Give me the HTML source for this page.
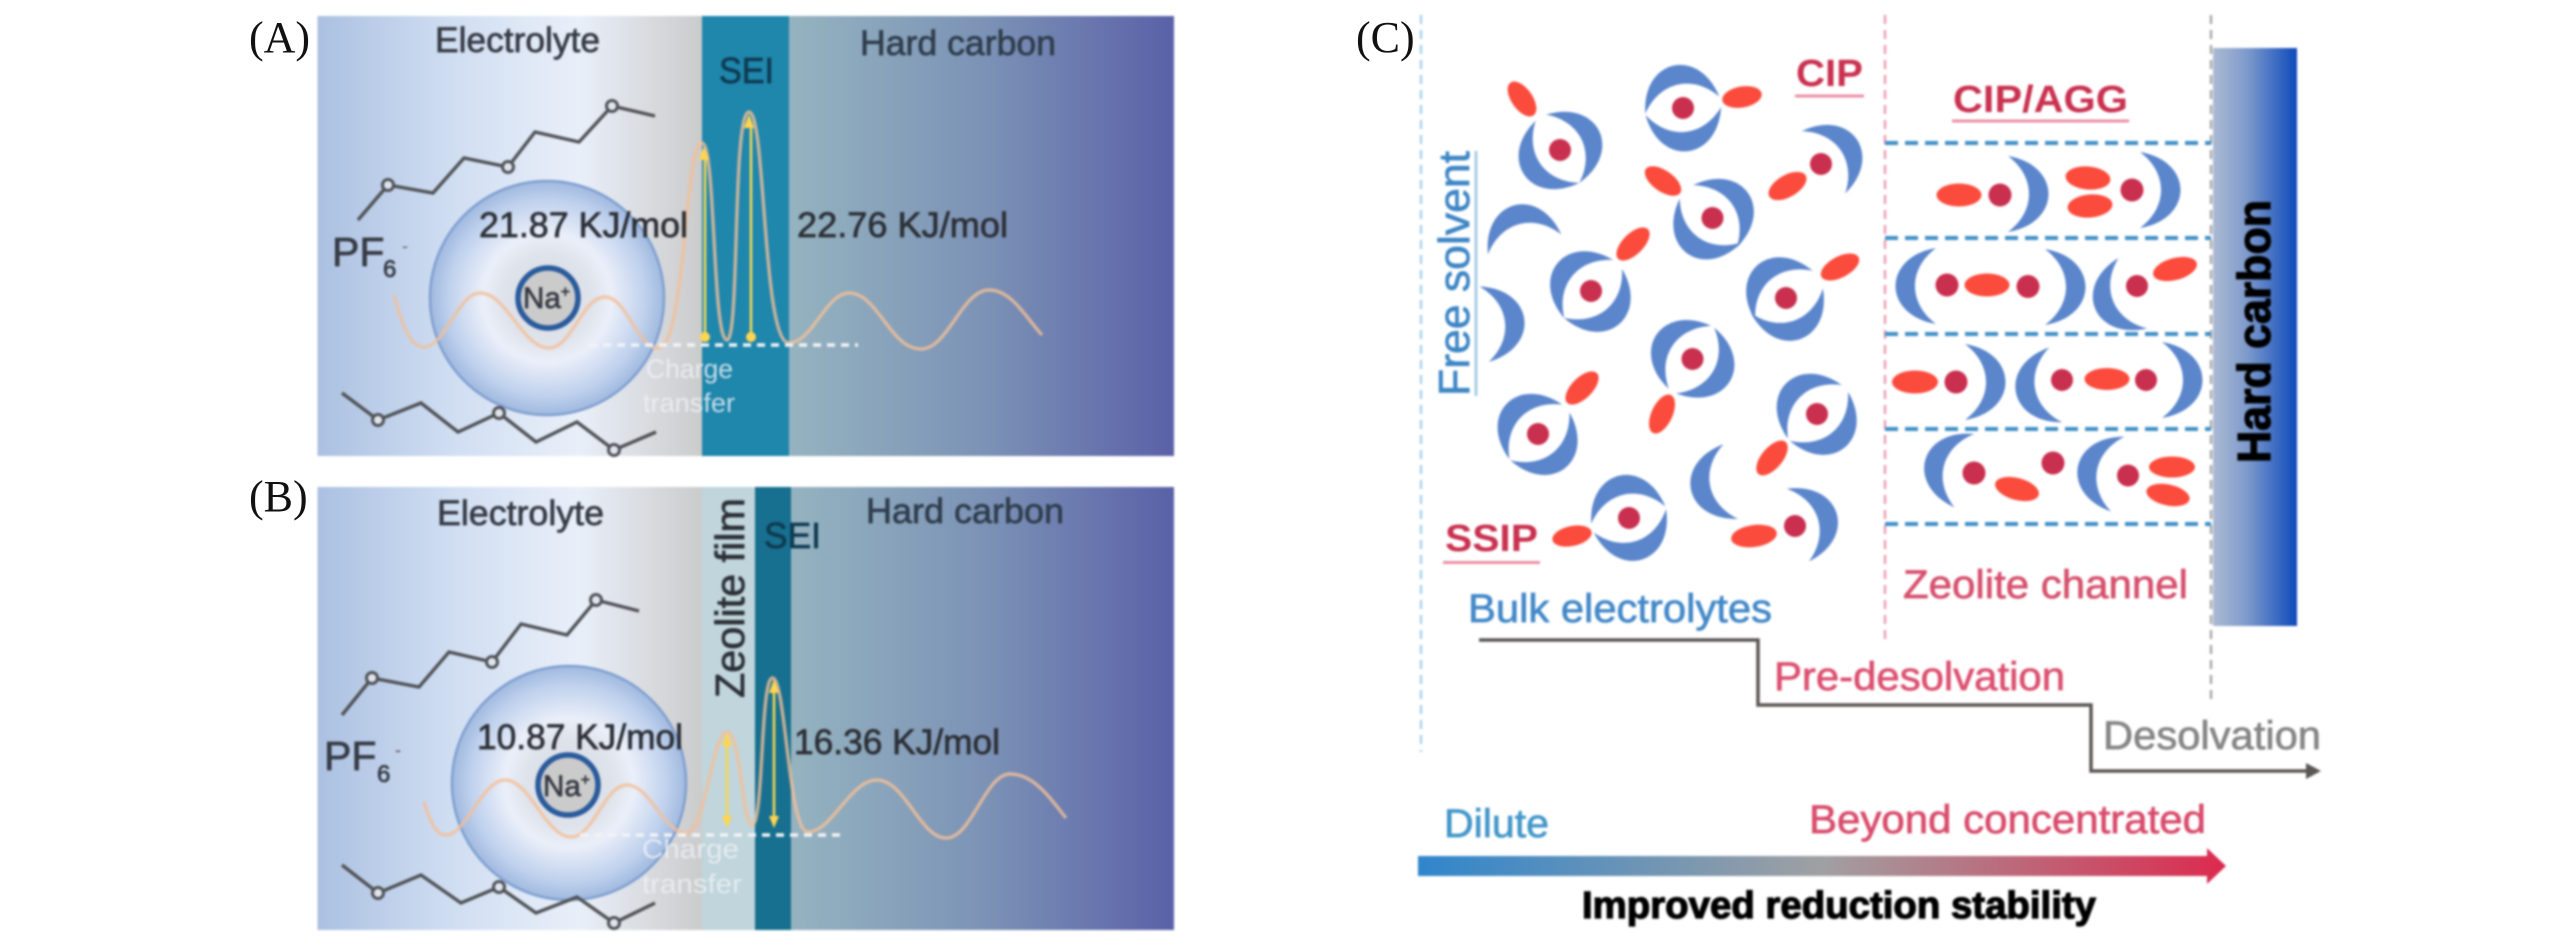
<!DOCTYPE html>
<html><head><meta charset="utf-8">
<style>
html,body{margin:0;padding:0;background:#fff;width:2567px;height:945px;overflow:hidden}
svg{display:block;position:absolute;left:0;top:0}
text{font-family:"Liberation Sans",sans-serif}
.s{font-family:"Liberation Serif",serif;font-size:44px;fill:#111}
.t{fill:currentColor;stroke:currentColor;stroke-width:.7}
.d{color:#363a44}
.m{fill:none;stroke:#505256;stroke-width:3.4}
.o{fill:#dfe5ef;stroke:#505256;stroke-width:3}
.cv{fill:none;stroke:#f2bf98;stroke-width:3.4;opacity:.8}
.y{stroke:#f0d858;stroke-width:2.6;fill:none}
.yh{fill:#ffd550}
.dash{stroke:#f1f3f5;stroke-width:3.5;stroke-dasharray:8 6;fill:none}
.wt{fill:#eef2f6;opacity:.8;font-size:27px}
.b{fill:#5b86cc}.r{fill:#c92f4e}.e{fill:#fb4b3c}
.hd{stroke:#3f8fc8;stroke-width:4;stroke-dasharray:13 7;fill:none}
</style></head>
<body>
<svg width="2567" height="945" viewBox="0 0 2567 945" style="filter:blur(1.1px)">
<defs>
<linearGradient id="el"><stop offset="0" stop-color="#abc0e1"/><stop offset=".35" stop-color="#d0def2"/><stop offset=".68" stop-color="#e9eff9"/><stop offset="1" stop-color="#cbcbcb"/></linearGradient>
<linearGradient id="hc"><stop offset="0" stop-color="#95b3c0"/><stop offset=".5" stop-color="#7c93b6"/><stop offset="1" stop-color="#5a61a8"/></linearGradient>
<radialGradient id="ion"><stop offset="0" stop-color="#d8dae0"/><stop offset=".38" stop-color="#dfe3ec"/><stop offset=".55" stop-color="#ebeff9"/><stop offset=".84" stop-color="#bfd1ed"/><stop offset="1" stop-color="#a0b9df"/></radialGradient>
<linearGradient id="hb"><stop offset="0" stop-color="#abbad2"/><stop offset=".4" stop-color="#7f9bcc"/><stop offset="1" stop-color="#0e4abb"/></linearGradient>
<linearGradient id="ar" gradientUnits="userSpaceOnUse" x1="1418" y1="0" x2="2226" y2="0"><stop offset="0" stop-color="#2f86cc"/><stop offset=".5" stop-color="#a0a0a2"/><stop offset="1" stop-color="#dc2a4e"/></linearGradient>
<path id="c" d="M-18,-38 C36,-29 36,29 -18,38 C10,17 10,-17 -18,-38Z" fill="#5b86cc"/>
</defs>

<!-- Panel A -->
<rect x="317.5" y="16" width="385" height="440" fill="url(#el)"/>
<rect x="702" y="16" width="87" height="440" fill="#1f86ac"/>
<rect x="789" y="16" width="385" height="440" fill="url(#hc)"/>
<polyline class="m" points="358,220 388,185 433,193 464,158 508,167 535,132 579,142 612,106 655,116"/>
<circle class="o" cx="388" cy="185" r="5.5"/><circle class="o" cx="508" cy="167" r="5.5"/><circle class="o" cx="612" cy="106" r="5.5"/>
<circle cx="547" cy="298" r="117" fill="url(#ion)" stroke="#7f9fd0" stroke-width="2.5"/>
<polyline class="m" points="342,393 378,420 421,403 458,432 499,413 536,442 577,422 614,450 656,432"/>
<circle class="o" cx="378" cy="420" r="5.5"/><circle class="o" cx="499" cy="413" r="5.5"/><circle class="o" cx="614" cy="450" r="5.5"/>
<circle cx="548" cy="298" r="30" fill="#cbcbcb" stroke="#2a5b9c" stroke-width="5.5"/>
<text x="523" y="308" font-size="30" class="t d" textLength="47" lengthAdjust="spacingAndGlyphs">Na<tspan font-size="16" dy="-11">+</tspan></text>
<path class="cv" d="M394,295 C402,325 410,347 424,347 C445,347 458,293 480,293 C507,293 522,348 549,348 C572,348 582,297 605,297 C627,297 637,348 658,348 C686,348 684,143 702,143 C716,143 712,340 727,340 C740,340 732,112 749,112 C766,112 762,343 789,343 C812,343 826,293 849,293 C878,293 890,349 921,349 C948,349 962,290 989,290 C1012,290 1026,318 1042,335"/>
<line class="dash" x1="589" y1="345" x2="858" y2="345"/>
<line class="y" x1="705" y1="155" x2="705" y2="334"/><line class="y" x1="751" y1="125" x2="751" y2="334"/>
<path class="yh" d="M704,146l5,14h-10zM749,114l5,14h-10z"/>
<circle class="yh" cx="705" cy="337" r="5"/><circle class="yh" cx="751" cy="337" r="5"/>
<text class="wt" x="646" y="378" textLength="87" lengthAdjust="spacingAndGlyphs">Charge</text>
<text class="wt" x="643" y="412" textLength="92" lengthAdjust="spacingAndGlyphs">transfer</text>
<text class="t d" x="435" y="52" font-size="35" textLength="165" lengthAdjust="spacingAndGlyphs">Electrolyte</text>
<text class="t" style="color:#0f3a52" x="719" y="83" font-size="36" textLength="55" lengthAdjust="spacingAndGlyphs">SEI</text>
<text class="t" style="color:#2f3d4c" x="860" y="55" font-size="35" textLength="196" lengthAdjust="spacingAndGlyphs">Hard carbon</text>
<text class="t d" x="332" y="266" font-size="41">PF</text>
<text class="t d" x="383" y="277" font-size="24">6</text><text class="d" fill="#666" x="402" y="252" font-size="18">-</text>
<text class="t" style="color:#2c2f36" x="479" y="237" font-size="35" textLength="209" lengthAdjust="spacingAndGlyphs">21.87 KJ/mol</text>
<text class="t" style="color:#2c2f36" x="797" y="237" font-size="35" textLength="211" lengthAdjust="spacingAndGlyphs">22.76 KJ/mol</text>

<!-- Panel B -->
<rect x="317.5" y="487" width="385" height="443" fill="url(#el)"/>
<rect x="702" y="487" width="53" height="443" fill="#c0d5dc"/>
<rect x="755" y="487" width="36" height="443" fill="#17708f"/>
<rect x="791" y="487" width="383" height="443" fill="url(#hc)"/>
<polyline class="m" points="342,715 372,678 419,687 449,652 492,662 521,624 567,635 596,600 639,611"/>
<circle class="o" cx="372" cy="678" r="5.5"/><circle class="o" cx="492" cy="662" r="5.5"/><circle class="o" cx="596" cy="600" r="5.5"/>
<circle cx="569" cy="783" r="117" fill="url(#ion)" stroke="#7f9fd0" stroke-width="2.5"/>
<polyline class="m" points="342,865 378,893 421,875 461,903 499,887 536,913 577,897 614,923 655,903"/>
<circle class="o" cx="378" cy="893" r="5.5"/><circle class="o" cx="499" cy="887" r="5.5"/><circle class="o" cx="614" cy="923" r="5.5"/>
<circle cx="568" cy="785" r="30" fill="#cbcbcb" stroke="#2a5b9c" stroke-width="5.5"/>
<text x="543" y="796" font-size="30" class="t d" textLength="47" lengthAdjust="spacingAndGlyphs">Na<tspan font-size="16" dy="-11">+</tspan></text>
<path class="cv" d="M424,802 C430,822 436,835 446,835 C466,835 482,780 505,780 C530,780 546,837 571,837 C594,837 604,785 627,785 C650,785 664,833 686,833 C706,833 712,732 727,732 C741,732 742,825 752,825 C764,825 760,678 772.5,678 C786,678 788,832 808,832 C832,832 850,780 877,780 C905,780 920,838 946,838 C972,838 985,774 1010,774 C1034,774 1050,798 1066,818"/>
<line class="dash" x1="580" y1="835" x2="846" y2="835"/>
<line class="y" x1="727" y1="742" x2="727" y2="820"/><line class="y" x1="774" y1="690" x2="774" y2="820"/>
<path class="yh" d="M727,732l5,14h-10zM774,679l5,14h-10zM727,828l5,-12h-10zM774,828l5,-12h-10z"/>
<text class="wt" x="642" y="858" textLength="97" lengthAdjust="spacingAndGlyphs" font-size="29">Charge</text>
<text class="wt" x="642" y="893" textLength="100" lengthAdjust="spacingAndGlyphs" font-size="29">transfer</text>
<text class="t d" x="437" y="525" font-size="35" textLength="167" lengthAdjust="spacingAndGlyphs">Electrolyte</text>
<text class="t" style="color:#0f3a52" x="764" y="548" font-size="36" textLength="57" lengthAdjust="spacingAndGlyphs">SEI</text>
<text class="t" style="color:#2f3d4c" x="866" y="523" font-size="35" textLength="198" lengthAdjust="spacingAndGlyphs">Hard carbon</text>
<text class="t" style="color:#2c2f36" transform="translate(744,698) rotate(-90)" font-size="41" textLength="200" lengthAdjust="spacingAndGlyphs">Zeolite film</text>
<text class="t d" x="324" y="770" font-size="41">PF</text>
<text class="t d" x="377" y="782" font-size="24">6</text><text class="d" fill="#555" x="395" y="756" font-size="18">-</text>
<text class="t" style="color:#2c2f36" x="477" y="749" font-size="35" textLength="206" lengthAdjust="spacingAndGlyphs">10.87 KJ/mol</text>
<text class="t" style="color:#2c2f36" x="794" y="754" font-size="35" textLength="206" lengthAdjust="spacingAndGlyphs">16.36 KJ/mol</text>

<!-- Panel C guides -->
<line x1="1421" y1="15" x2="1421" y2="752" stroke="#a8d4ef" stroke-width="2.5" stroke-dasharray="9 6"/>
<line x1="1885" y1="15" x2="1885" y2="642" stroke="#ef9fb6" stroke-width="2.5" stroke-dasharray="9 6"/>
<line x1="2211" y1="15" x2="2211" y2="705" stroke="#aaaaaa" stroke-width="2.5" stroke-dasharray="9 6"/>
<line class="hd" x1="1885" y1="143" x2="2211" y2="143"/>
<line class="hd" x1="1885" y1="238" x2="2211" y2="238"/>
<line class="hd" x1="1885" y1="334" x2="2211" y2="334"/>
<line class="hd" x1="1885" y1="429" x2="2211" y2="429"/>
<line class="hd" x1="1885" y1="524" x2="2211" y2="524"/>
<rect x="2213" y="48" width="84" height="578" fill="url(#hb)"/>
<text class="t" style="color:#000;stroke-width:1.2" transform="translate(2270,463) rotate(-90)" font-size="46" font-weight="700" textLength="263" lengthAdjust="spacingAndGlyphs">Hard carbon</text>

<!-- bulk clusters -->
<g>
<circle class="r" cx="1560" cy="150" r="11"/><use href="#c" transform="translate(1560,150) rotate(-26) translate(21,0)"/><use href="#c" transform="translate(1560,150) rotate(145) translate(21,0)"/><ellipse class="e" cx="1522" cy="99" rx="20" ry="10.5" transform="rotate(55 1522 99)"/>
<circle class="r" cx="1683" cy="108" r="11"/><use href="#c" transform="translate(1683,108) rotate(-103) translate(21,0)"/><use href="#c" transform="translate(1683,108) rotate(84) translate(21,0)"/><ellipse class="e" cx="1742" cy="97" rx="20" ry="10.5" transform="rotate(-10 1742 97)"/>
<circle class="r" cx="1821" cy="164" r="11"/><use href="#c" transform="translate(1821,164) rotate(-35) translate(21,0)"/><ellipse class="e" cx="1787.5" cy="186" rx="21" ry="11" transform="rotate(-30 1787.5 186)"/>
<circle class="r" cx="1712.5" cy="218" r="11"/><use href="#c" transform="translate(1712.5,218) rotate(-35) translate(21,0)"/><use href="#c" transform="translate(1712.5,218) rotate(125) translate(21,0)"/><ellipse class="e" cx="1663" cy="181" rx="21" ry="10.5" transform="rotate(35 1663 181)"/>
<circle class="r" cx="1591" cy="291" r="11"/><use href="#c" transform="translate(1591,291) rotate(-140) translate(21,0)"/><use href="#c" transform="translate(1591,291) rotate(50) translate(21,0)"/><ellipse class="e" cx="1633" cy="244" rx="21" ry="10.5" transform="rotate(-45 1633 244)"/>
<circle class="r" cx="1786" cy="298" r="11"/><use href="#c" transform="translate(1786,298) rotate(-131) translate(21,0)"/><use href="#c" transform="translate(1786,298) rotate(71) translate(21,0)"/><ellipse class="e" cx="1840" cy="267" rx="21" ry="10.5" transform="rotate(-28 1840 267)"/>
<circle class="r" cx="1692.5" cy="359" r="11"/><use href="#c" transform="translate(1692.5,359) rotate(-146) translate(21,0)"/><use href="#c" transform="translate(1692.5,359) rotate(30) translate(21,0)"/><ellipse class="e" cx="1662" cy="414" rx="21" ry="10.5" transform="rotate(-65 1662 414)"/>
<circle class="r" cx="1538" cy="434" r="11"/><use href="#c" transform="translate(1538,434) rotate(-136) translate(21,0)"/><use href="#c" transform="translate(1538,434) rotate(51) translate(21,0)"/><ellipse class="e" cx="1582" cy="388" rx="21" ry="10.5" transform="rotate(-45 1582 388)"/>
<circle class="r" cx="1817" cy="414" r="11"/><use href="#c" transform="translate(1817,414) rotate(-135) translate(21,0)"/><use href="#c" transform="translate(1817,414) rotate(50) translate(21,0)"/><ellipse class="e" cx="1772" cy="458" rx="21" ry="10.5" transform="rotate(-50 1772 458)"/>
<circle class="r" cx="1629" cy="518" r="11"/><use href="#c" transform="translate(1629,518) rotate(-103) translate(21,0)"/><use href="#c" transform="translate(1629,518) rotate(72) translate(21,0)"/><ellipse class="e" cx="1572" cy="536" rx="20" ry="10" transform="rotate(-12 1572 536)"/>
<circle class="r" cx="1795" cy="526" r="11"/><use href="#c" transform="translate(1795,526) rotate(-17) translate(21,0)"/><ellipse class="e" cx="1754" cy="536" rx="23" ry="11" transform="rotate(-8 1754 536)"/>
<use href="#c" transform="translate(1713,485) rotate(169)"/>
<use href="#c" transform="translate(1520,227) rotate(-105)"/>
<use href="#c" transform="translate(1502,322) rotate(-7)"/>
</g>

<!-- channel molecules -->
<g>
<ellipse class="e" cx="1959" cy="195" rx="22.5" ry="11.5"/><circle class="r" cx="2000" cy="195" r="11.5"/><use href="#c" transform="translate(2026,194)"/>
<ellipse class="e" cx="2088" cy="178" rx="22.5" ry="11.5" transform="rotate(5 2088 178)"/><ellipse class="e" cx="2090" cy="206" rx="22.5" ry="11.5" transform="rotate(-5 2090 206)"/><circle class="r" cx="2132" cy="190" r="11.5"/><use href="#c" transform="translate(2158,190)"/>
<use href="#c" transform="translate(1918,286) rotate(180)"/><circle class="r" cx="1947" cy="285" r="11.5"/><ellipse class="e" cx="1987" cy="285" rx="22.5" ry="11.5"/><circle class="r" cx="2028" cy="286.5" r="11.5"/><use href="#c" transform="translate(2063,287)"/>
<use href="#c" transform="translate(2116,300) rotate(158)"/><circle class="r" cx="2137" cy="286" r="11"/><ellipse class="e" cx="2175" cy="269" rx="22.5" ry="11" transform="rotate(-15 2175 269)"/>
<ellipse class="e" cx="1915" cy="382" rx="23" ry="11.5"/><circle class="r" cx="1956" cy="382" r="11.5"/><use href="#c" transform="translate(1983,382)"/>
<use href="#c" transform="translate(2038,388) rotate(170)"/><circle class="r" cx="2062" cy="380" r="11"/><ellipse class="e" cx="2107" cy="379" rx="22.5" ry="11"/><circle class="r" cx="2146" cy="380" r="11"/><use href="#c" transform="translate(2180,380)"/>
<use href="#c" transform="translate(1947,466) rotate(195)"/><circle class="r" cx="1974" cy="473" r="11.5"/><ellipse class="e" cx="2017" cy="489" rx="22.5" ry="11" transform="rotate(15 2017 489)"/><circle class="r" cx="2053" cy="463" r="11.5"/>
<use href="#c" transform="translate(2100,471) rotate(190)"/><circle class="r" cx="2128" cy="475.5" r="11"/><ellipse class="e" cx="2172" cy="467" rx="23" ry="10.5"/><ellipse class="e" cx="2168" cy="495" rx="22" ry="10.5" transform="rotate(12 2168 495)"/>
</g>

<!-- C labels -->
<text class="t" style="color:#3d86c6" transform="translate(1469,396) rotate(-90)" font-size="44" textLength="245" lengthAdjust="spacingAndGlyphs">Free solvent</text>
<line x1="1476" y1="151" x2="1476" y2="396" stroke="#a8cde8" stroke-width="3"/>
<text x="1796" y="86" font-size="38" font-weight="700" fill="#c9314f" textLength="67" lengthAdjust="spacingAndGlyphs">CIP</text>
<line x1="1795" y1="96" x2="1864" y2="96" stroke="#ec8fa4" stroke-width="3"/>
<text x="1445" y="551" font-size="38" font-weight="700" fill="#c9314f" textLength="93" lengthAdjust="spacingAndGlyphs">SSIP</text>
<line x1="1443" y1="562.5" x2="1540" y2="562.5" stroke="#ec8fa4" stroke-width="3"/>
<text x="1953" y="112" font-size="38" font-weight="700" fill="#c9314f" textLength="175" lengthAdjust="spacingAndGlyphs">CIP/AGG</text>
<line x1="1952" y1="121" x2="2129" y2="121" stroke="#ec8fa4" stroke-width="3"/>
<text class="t" style="color:#d6506d" x="1903" y="598" font-size="40" textLength="285" lengthAdjust="spacingAndGlyphs">Zeolite channel</text>

<polyline points="1479,640 1758,640 1758,705 2091,705 2091,771 2310,771" fill="none" stroke="#5c5656" stroke-width="3.5"/>
<path d="M2321,771 L2306,763 L2306,779 Z" fill="#5c5656"/>
<text class="t" style="color:#4288c8" x="1468" y="622" font-size="40" textLength="304" lengthAdjust="spacingAndGlyphs">Bulk electrolytes</text>
<text class="t" style="color:#dc5070" x="1774" y="690" font-size="40" textLength="291" lengthAdjust="spacingAndGlyphs">Pre-desolvation</text>
<text class="t" style="color:#858585" x="2103" y="749" font-size="40" textLength="218" lengthAdjust="spacingAndGlyphs">Desolvation</text>
<text class="t" style="color:#4296c8" x="1444" y="837" font-size="40" textLength="105" lengthAdjust="spacingAndGlyphs">Dilute</text>
<text class="t" style="color:#d84c6c" x="1809" y="833" font-size="40" textLength="397" lengthAdjust="spacingAndGlyphs">Beyond concentrated</text>
<path d="M1418,856 H2207 V848 L2226,866 L2207,884 V876 H1418 Z" fill="url(#ar)"/>
<text class="t" style="color:#000;stroke-width:1.2" x="1582" y="918" font-size="38" font-weight="700" textLength="514" lengthAdjust="spacingAndGlyphs">Improved reduction stability</text>
</svg>

<svg width="2567" height="945" viewBox="0 0 2567 945">
<text class="s" x="249" y="52">(A)</text>
<text class="s" x="249" y="511">(B)</text>
<text class="s" x="1356" y="52">(C)</text>
</svg>
</body></html>
